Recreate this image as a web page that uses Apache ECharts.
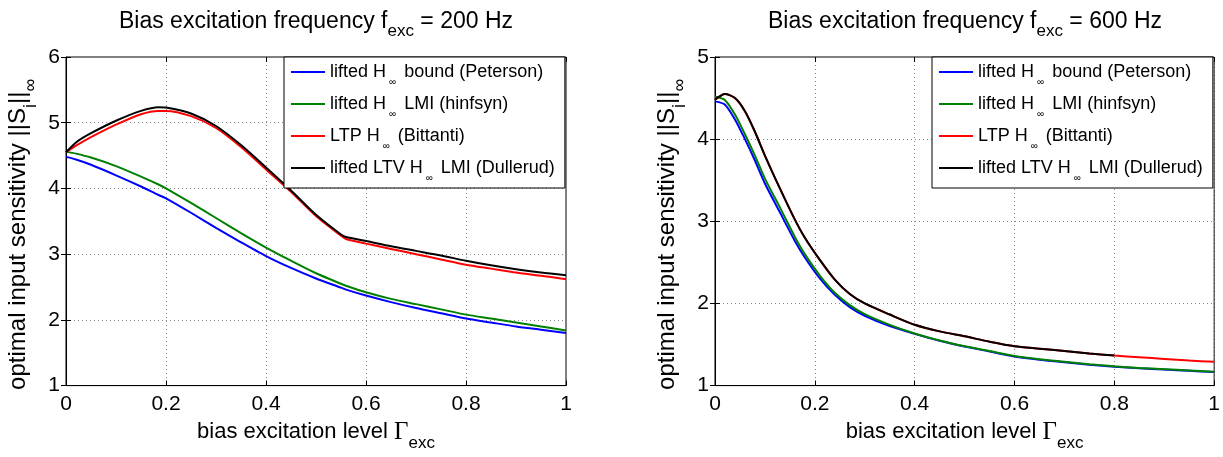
<!DOCTYPE html>
<html>
<head>
<meta charset="utf-8">
<script src="https://cdn.jsdelivr.net/npm/echarts@6/dist/echarts.min.js"></script>
<style>
html,body{margin:0;padding:0;background:#fff;}
#c{width:1223px;height:457px;}
</style>
</head>
<body>
<div id="c"></div>
<script>
// ---------- data ----------
const seriesNames = [
  'lifted H∞ bound (Peterson)',
  'lifted H∞ LMI (hinfsyn)',
  'LTP H∞ (Bittanti)',
  'lifted LTV H∞ LMI (Dullerud)'
];
const xTicks = ['0', '0.2', '0.4', '0.6', '0.8', '1'];

// left panel: f_exc = 200 Hz
const xLeft = [0, 0.02, 0.05, 0.1, 0.15, 0.185, 0.2, 0.25, 0.3, 0.35, 0.4, 0.45, 0.5, 0.55, 0.56, 0.6, 0.65, 0.7, 0.75, 0.8, 0.85, 0.9, 0.95, 1.0];
const petersonLeft = [4.48, 4.44, 4.36, 4.2, 4.03, 3.9, 3.85, 3.63, 3.4, 3.18, 2.97, 2.79, 2.63, 2.49, 2.46, 2.37, 2.27, 2.18, 2.1, 2.02, 1.96, 1.9, 1.85, 1.8];
const hinfsynLeft = [4.56, 4.53, 4.47, 4.34, 4.18, 4.06, 4.0, 3.78, 3.55, 3.32, 3.1, 2.9, 2.71, 2.55, 2.52, 2.42, 2.32, 2.24, 2.16, 2.08, 2.02, 1.96, 1.9, 1.84];
const bittantiLeft = [4.55, 4.65, 4.78, 4.97, 5.13, 5.18, 5.18, 5.1, 4.92, 4.63, 4.29, 3.95, 3.58, 3.28, 3.23, 3.16, 3.08, 3.0, 2.92, 2.84, 2.78, 2.72, 2.67, 2.62];
const dullerudLeft = [4.55, 4.7, 4.84, 5.03, 5.18, 5.235, 5.23, 5.14, 4.95, 4.66, 4.32, 3.97, 3.6, 3.3, 3.26, 3.2, 3.12, 3.05, 2.98, 2.9, 2.83, 2.77, 2.72, 2.68];

// right panel: f_exc = 600 Hz
const xRight = [0, 0.02, 0.04, 0.06, 0.08, 0.1, 0.13, 0.16, 0.18, 0.21, 0.24, 0.27, 0.3, 0.35, 0.4, 0.45, 0.5, 0.55, 0.6, 0.65, 0.7, 0.75, 0.8, 0.85, 0.9, 0.95, 1.0];
const petersonRight = [4.46, 4.42, 4.24, 4.0, 3.74, 3.46, 3.11, 2.76, 2.56, 2.305, 2.105, 1.955, 1.85, 1.725, 1.63, 1.545, 1.475, 1.415, 1.355, 1.315, 1.285, 1.255, 1.23, 1.21, 1.195, 1.18, 1.165];
const hinfsynRight = [4.515, 4.475, 4.3, 4.06, 3.8, 3.52, 3.17, 2.81, 2.6, 2.34, 2.13, 1.98, 1.87, 1.74, 1.635, 1.55, 1.48, 1.42, 1.36, 1.32, 1.29, 1.26, 1.235, 1.215, 1.2, 1.185, 1.17];
const bittantiRight = [4.48, 4.55, 4.5, 4.34, 4.09, 3.8, 3.4, 3.02, 2.8, 2.53, 2.29, 2.115, 2.0, 1.865, 1.74, 1.66, 1.6, 1.535, 1.48, 1.45, 1.42, 1.39, 1.365, 1.345, 1.325, 1.305, 1.29];
const dullerudRight = [4.48, 4.55, 4.5, 4.34, 4.09, 3.8, 3.4, 3.02, 2.8, 2.53, 2.29, 2.115, 2.0, 1.865, 1.74, 1.66, 1.6, 1.535, 1.48, 1.45, 1.42, 1.39, 1.365];

const colors = ['#0000ff', '#008000', '#ff0000', '#000000'];

// ---------- helpers ----------
const FONT = 'Liberation Sans';
function zip(xs, ys) { return ys.map((y, i) => [xs[i], y]); }

const titleRich = {
  n: { fontSize: 23, lineHeight: 36, color: '#000', fontFamily: FONT, fontWeight: 'normal' },
  s: { fontSize: 17, lineHeight: 12, verticalAlign: 'bottom', color: '#000', fontFamily: FONT, fontWeight: 'normal' }
};
const xNameRich = {
  n: { fontSize: 22, lineHeight: 40, color: '#000', fontFamily: FONT },
  g: { fontSize: 25, lineHeight: 40, color: '#000', fontFamily: 'Liberation Serif' },
  s: { fontSize: 17, lineHeight: 12, verticalAlign: 'bottom', color: '#000', fontFamily: FONT }
};
const yNameRich = {
  n: { fontSize: 24, lineHeight: 44, color: '#000', fontFamily: FONT },
  s: { fontSize: 18, lineHeight: 14, verticalAlign: 'bottom', color: '#000', fontFamily: FONT },
  e: { fontSize: 18, lineHeight: 14, verticalAlign: 'bottom', color: '#000', fontFamily: FONT, padding: [0, 26, 0, 0] }
};
const legendRich = {
  n: { fontSize: 18, lineHeight: 30, color: '#000', fontFamily: FONT },
  s: { fontSize: 10, lineHeight: 10, verticalAlign: 'bottom', color: '#000', fontFamily: FONT, padding: [0, 3, 0, 3] }
};

function legendFmt(name) {
  const parts = name.split('∞');
  return '{n|' + parts[0] + '}{s|∞}{n|' + parts[1] + '}';
}

const grids = [
  { left: 66, top: 57, width: 500, height: 339 },
  { left: 715, top: 57, width: 500, height: 339 }
];

function xAxes(gi) {
  return [
    {
      type: 'value', gridIndex: gi, min: 0, max: 1, interval: 0.2, position: 'bottom',
      axisLine: { show: true, lineStyle: { color: '#000', width: 1 } },
      axisTick: { show: true, inside: true, length: 5, lineStyle: { color: '#000' } },
      axisLabel: { color: '#000', fontSize: 21, fontFamily: FONT, margin: 8,
        formatter: (v) => xTicks[Math.round(v / 0.2)] },
      splitLine: { show: true, lineStyle: { color: '#888', width: 1, type: [1, 3] } },
      name: '{n|bias excitation level }{g|Γ}{s|exc}',
      nameLocation: 'middle', nameGap: 19,
      nameTextStyle: { rich: xNameRich }
    },
    {
      type: 'value', gridIndex: gi, min: 0, max: 1, interval: 0.2, position: 'top',
      axisLine: { show: false },
      axisTick: { show: true, inside: true, length: 5, lineStyle: { color: '#000' } },
      axisLabel: { show: false }, splitLine: { show: false }
    }
  ];
}
function yAxes(gi, maxV) {
  return [
    {
      type: 'value', gridIndex: gi, min: 1, max: maxV, interval: 1, position: 'left',
      axisLine: { show: true, lineStyle: { color: '#000', width: 1 } },
      axisTick: { show: true, inside: true, length: 5, lineStyle: { color: '#000' } },
      axisLabel: { color: '#000', fontSize: 21, fontFamily: FONT, margin: 6 },
      splitLine: { show: true, lineStyle: { color: '#888', width: 1, type: [1, 3] } },
      name: '{n|optimal input sensitivity ||S}{s|i}{n|||}{e|∞}',
      nameLocation: 'middle', nameRotate: 90, nameGap: 26,
      nameTextStyle: { rich: yNameRich }
    },
    {
      type: 'value', gridIndex: gi, min: 1, max: maxV, interval: 1, position: 'right',
      axisLine: { show: false },
      axisTick: { show: true, inside: true, length: 5, lineStyle: { color: '#000' } },
      axisLabel: { show: false }, splitLine: { show: false }
    }
  ];
}

function mkSeries(xs, arrs, xi, yi) {
  return arrs.map((ys, k) => ({
    name: seriesNames[k],
    type: 'line',
    xAxisIndex: xi, yAxisIndex: yi,
    data: zip(xs, ys),
    showSymbol: false, symbol: 'none',
    smooth: 0.25,
    lineStyle: { color: colors[k], width: 2 },
    itemStyle: { color: colors[k] },
    z: 2 + k,
    animation: false
  }));
}

function mkLegend(left) {
  return {
    show: true, orient: 'vertical', left: left, top: 57,
    data: seriesNames, selectedMode: false,
    icon: 'rect', itemWidth: 34, itemHeight: 2, itemGap: 2,
    padding: [0, 10, 5, 7],
    borderColor: '#000', borderWidth: 1, backgroundColor: '#fff',
    textStyle: { rich: legendRich, fontSize: 18, lineHeight: 30, fontFamily: FONT, color: '#000' },
    formatter: legendFmt,
    z: 10
  };
}

const chart = echarts.init(document.getElementById('c'), null, { renderer: 'canvas' });
chart.setOption({
  backgroundColor: '#fff',
  animation: false,
  textStyle: { fontFamily: FONT },
  title: [
    { text: '{n|Bias excitation frequency f}{s|exc}{n| = 200 Hz}', left: 316, top: 4, textAlign: 'center', padding: 0,
      textStyle: { rich: titleRich, fontWeight: 'normal' } },
    { text: '{n|Bias excitation frequency f}{s|exc}{n| = 600 Hz}', left: 965, top: 4, textAlign: 'center', padding: 0,
      textStyle: { rich: titleRich, fontWeight: 'normal' } }
  ],
  grid: grids.map(g => Object.assign({ show: true, borderColor: '#000', borderWidth: 1, backgroundColor: 'transparent' }, g)),
  xAxis: [...xAxes(0), ...xAxes(1)],
  yAxis: [...yAxes(0, 6), ...yAxes(1, 5)],
  legend: [mkLegend(284), mkLegend(932)],
  series: [
    ...mkSeries(xLeft, [petersonLeft, hinfsynLeft, bittantiLeft, dullerudLeft], 0, 0),
    ...mkSeries(xRight, [petersonRight, hinfsynRight, bittantiRight, dullerudRight], 2, 2)
  ]
});
</script>
</body>
</html>
